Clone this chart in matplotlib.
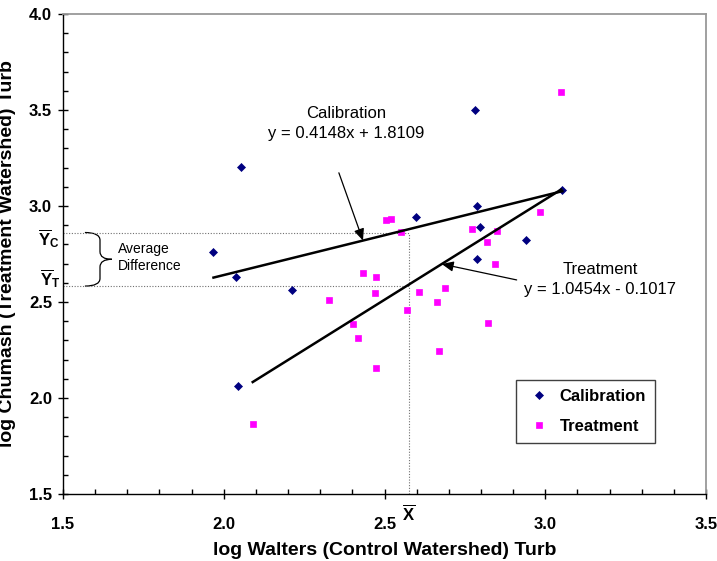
import numpy as np
import matplotlib.pyplot as plt
import matplotlib.transforms as mtransforms
from matplotlib.path import Path
from matplotlib.patches import PathPatch
from matplotlib.ticker import MultipleLocator, FormatStrFormatter

plt.rcParams['font.family'] = ['Liberation Sans', 'DejaVu Sans']
plt.rcParams['mathtext.fontset'] = 'custom'
plt.rcParams['mathtext.rm'] = 'Liberation Sans'
plt.rcParams['mathtext.bf'] = 'Liberation Sans:bold'
plt.rcParams['mathtext.it'] = 'Liberation Sans:italic'

# calibration period (navy diamonds)
cal_x = [2.054, 1.968, 2.038, 2.213, 2.597, 2.045, 2.782, 2.789, 2.797, 2.940, 2.789, 3.053]
cal_y = [3.203, 2.759, 2.629, 2.563, 2.941, 2.063, 3.500, 3.002, 2.891, 2.823, 2.724, 3.082]

# treatment period (magenta squares)
trt_x = [3.049, 2.985, 2.504, 2.520, 2.551, 2.772, 2.851, 2.820, 2.844, 2.607, 2.687, 2.662,
         2.571, 2.821, 2.670, 2.471, 2.328, 2.403, 2.418, 2.473, 2.090, 2.433, 2.473]
trt_y = [3.595, 2.967, 2.927, 2.934, 2.863, 2.880, 2.871, 2.814, 2.698, 2.552, 2.571, 2.498,
         2.458, 2.392, 2.246, 2.548, 2.512, 2.385, 2.311, 2.156, 1.865, 2.649, 2.629]

# trend lines as given on the chart
cal_slope, cal_int = 0.4148, 1.8109
trt_slope, trt_int = 1.0454, -0.1017

# mean x and the two line values drawn as reference lines
x_bar = 2.576
y_c = 2.862
y_t = 2.583

fig = plt.figure(figsize=(7.17, 5.61), dpi=100)
ax = fig.add_axes([0.0879, 0.1194, 0.8968, 0.8556])

ax.plot(cal_x, cal_y, ls='none', marker='D', ms=3.8, mew=0.5, color='#000080',
        label='Calibration', zorder=3)
ax.plot(trt_x, trt_y, ls='none', marker='s', ms=4.6, mew=0.5, color='#FF00FF',
        label='Treatment', zorder=3)

xx = np.array([min(cal_x), max(cal_x)])
ax.plot(xx, cal_int + cal_slope * xx, color='black', lw=1.8, zorder=4)
xx = np.array([min(trt_x), max(trt_x)])
ax.plot(xx, trt_int + trt_slope * xx, color='black', lw=1.8, zorder=4)

# dotted guide lines
dot = dict(color='#707070', lw=0.8, ls=(0, (1, 1.5)), zorder=2)
ax.plot([1.5, x_bar], [y_c, y_c], **dot)
ax.plot([1.5, x_bar], [y_t, y_t], **dot)
ax.plot([x_bar, x_bar], [1.5, y_c], **dot)

# curly brace between the two means
xe, xm, xt = 1.568, 1.615, 1.652
ym = (y_c + y_t) / 2
d = 0.04
verts = [(xe, y_c), (xm, y_c), (xm, y_c - d), (xm, ym + d), (xm, ym), (xt, ym),
         (xm, ym), (xm, ym - d), (xm, y_t + d), (xm, y_t), (xe, y_t)]
codes = [Path.MOVETO, Path.CURVE3, Path.CURVE3, Path.LINETO, Path.CURVE3, Path.CURVE3,
         Path.CURVE3, Path.CURVE3, Path.LINETO, Path.CURVE3, Path.CURVE3]
ax.add_patch(PathPatch(Path(verts, codes), fc='none', ec='black', lw=0.9))
ax.text(1.671, ym + 0.01, 'Average\nDifference', fontsize=10, ha='left', va='center',
        linespacing=1.3)

# trend line annotations
arrow = dict(arrowstyle='-|>,head_length=0.5,head_width=0.22', color='black', lw=0.9,
             mutation_scale=14, shrinkA=0, shrinkB=0)
ax.annotate('', xy=(2.433, cal_int + cal_slope * 2.433), xytext=(2.358, 3.173),
            arrowprops=arrow)
ax.text(2.380, 3.430, 'Calibration\ny = 0.4148x + 1.8109', fontsize=12, ha='center',
        va='center', linespacing=1.4)
ax.annotate('', xy=(2.678, trt_int + trt_slope * 2.678), xytext=(2.911, 2.615),
            arrowprops=arrow)
ax.text(3.170, 2.618, 'Treatment\ny = 1.0454x - 0.1017', fontsize=12, ha='center',
        va='center', linespacing=1.4)

# mean labels outside the axes
tr = mtransforms.blended_transform_factory(ax.transAxes, ax.transData)
ax.text(-0.005, 2.829, r'$\mathbf{\overline{Y}}_{\mathbf{C}}$', fontsize=12, ha='right',
        va='center', transform=tr, clip_on=False)
ax.text(-0.005, 2.621, r'$\mathbf{\overline{Y}}_{\mathbf{T}}$', fontsize=12, ha='right',
        va='center', transform=tr, clip_on=False)
tr = mtransforms.blended_transform_factory(ax.transData, ax.transAxes)
ax.text(x_bar, -0.039, r'$\mathbf{\overline{X}}$', fontsize=12, ha='center', va='center',
        transform=tr, clip_on=False)

ax.set_xlim(1.5, 3.5)
ax.set_ylim(1.5, 4.0)
ax.xaxis.set_major_locator(MultipleLocator(0.5))
ax.xaxis.set_minor_locator(MultipleLocator(0.1))
ax.yaxis.set_major_locator(MultipleLocator(0.5))
ax.yaxis.set_minor_locator(MultipleLocator(0.1))
ax.xaxis.set_major_formatter(FormatStrFormatter('%.1f'))
ax.yaxis.set_major_formatter(FormatStrFormatter('%.1f'))
ax.tick_params(which='major', direction='inout', length=7, width=1, labelsize=12)
ax.tick_params(axis='x', which='major', pad=13)
ax.tick_params(axis='y', which='major', pad=4.4)
ax.tick_params(which='minor', direction='in', length=3.5, width=1)
plt.setp(ax.get_xticklabels() + ax.get_yticklabels(), fontweight='bold')

for s in ['top', 'right']:
    ax.spines[s].set_color('#999999')
    ax.spines[s].set_linewidth(1.3)
for s in ['left', 'bottom']:
    ax.spines[s].set_color('black')
    ax.spines[s].set_linewidth(1.0)

ax.set_xlabel('log Walters (Control Watershed) Turb', fontsize=14, fontweight='bold')
ax.set_ylabel('log Chumash (Treatment Watershed) Turb', fontsize=14, fontweight='bold')
ax.xaxis.set_label_coords(0.5, -0.1)
ax.yaxis.set_label_coords(-0.073, 0.5)

leg = ax.legend(loc='upper left', bbox_to_anchor=(0.7045, 0.2375), borderaxespad=0,
                fancybox=False, edgecolor='#404040', framealpha=1, numpoints=1,
                prop={'weight': 'bold', 'size': 12}, borderpad=0.55, labelspacing=0.9,
                handlelength=1.65, handletextpad=0.43)
leg.get_frame().set_linewidth(1.0)

plt.savefig('out.png', dpi=100)
